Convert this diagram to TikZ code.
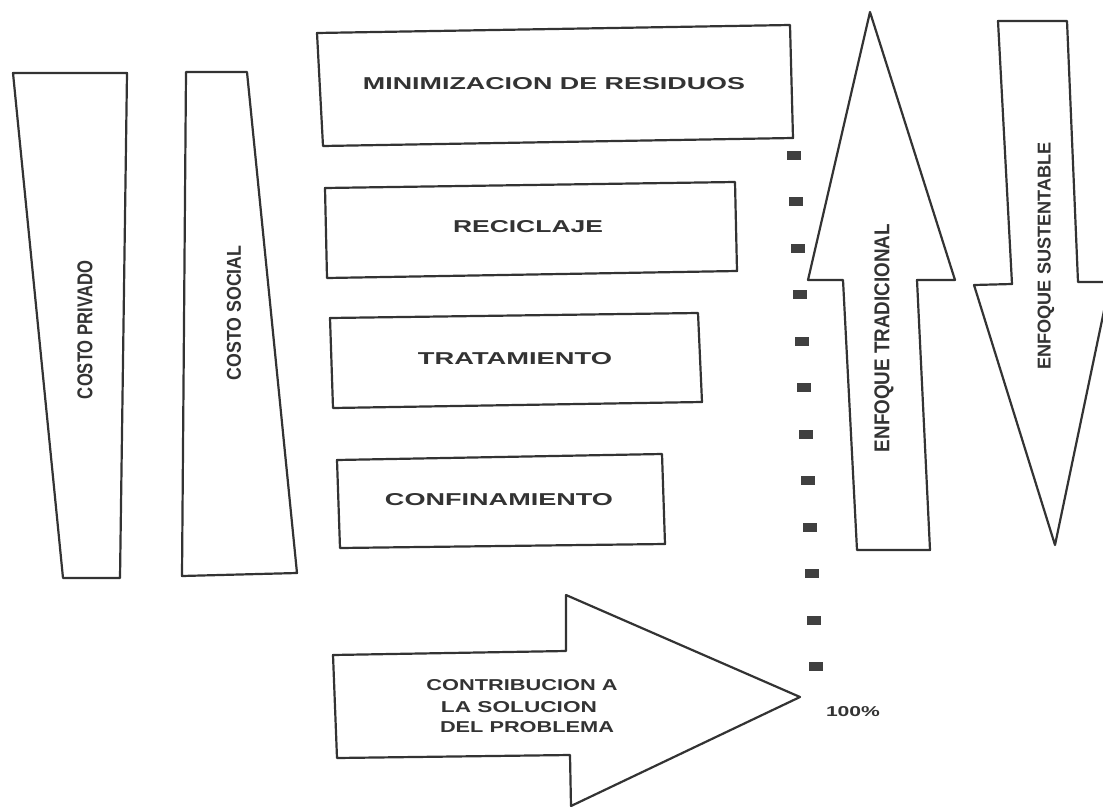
\documentclass[tikz,border=0pt]{standalone}
\usepackage{fontspec}
\setmainfont{Liberation Sans}
\usepackage{graphicx}
\tikzset{
  shapeline/.style={draw=black!80, line width=2.2pt, line join=round, fill=white},
  lbl/.style={inner sep=0pt, outer sep=0pt, text=black!80},
  dotmark/.style={fill=black!75}
}
\newcommand{\fitH}[3]{\resizebox{#1pt}{#2pt}{\bfseries #3}}
\newcommand{\fitV}[3]{\rotatebox{90}{\resizebox{#1pt}{#2pt}{\bfseries #3}}}
\begin{document}
\begin{tikzpicture}[x=1pt,y=-1pt]
\useasboundingbox (0,0) rectangle (1103,808);
\clip (0,0) rectangle (1103,808);
\fill[white] (0,0) rectangle (1103,808);
% costo privado / social
\draw[shapeline] (13,73) -- (127,73) -- (120,578) -- (63,578) -- cycle;
\node[lbl] (cp) at (85,330) {\fitV{138}{15}{COSTO PRIVADO}};
\draw[shapeline] (186,72) -- (247,72) -- (297,573) -- (182,576) -- cycle;
\node[lbl] (cs) at (234,313) {\fitV{135}{14}{COSTO SOCIAL}};
% boxes
\draw[shapeline] (317,33) -- (790,25) -- (793,138) -- (323,146) -- cycle;
\node[lbl] (min) at (554,84) {\fitH{382}{12}{MINIMIZACION DE RESIDUOS}};
\draw[shapeline] (325,188) -- (735,182) -- (737,271) -- (327,278) -- cycle;
\node[lbl] (rec) at (528,227) {\fitH{150}{12}{RECICLAJE}};
\draw[shapeline] (330,318) -- (698,313) -- (702,402) -- (333,408) -- cycle;
\node[lbl] (tra) at (515,359) {\fitH{194}{12}{TRATAMIENTO}};
\draw[shapeline] (337,460) -- (662,454) -- (665,544) -- (340,548) -- cycle;
\node[lbl] (con) at (499,500) {\fitH{228}{12}{CONFINAMIENTO}};
% big right arrow
\draw[shapeline] (333,655) -- (566,651) -- (566,595) -- (800,697) -- (571,806) -- (570,755) -- (337,758) -- cycle;
\node[lbl] (c1) at (522,685) {\fitH{191}{11}{CONTRIBUCION A}};
\node[lbl] (c2) at (519,707) {\fitH{156}{11}{LA SOLUCION}};
\node[lbl] (c3) at (527,727) {\fitH{174}{11}{DEL PROBLEMA}};
\node[lbl] (pct) at (853,712) {\fitH{54}{10}{100\%}};
% dotted scale
\foreach \i in {0,...,11} \fill[dotmark] ({794+2*\i-7},{155+46.5*\i-4.5}) rectangle +(14,9);
% up arrow
\draw[shapeline] (870,12) -- (955,280) -- (917,280) -- (930,550) -- (857,550) -- (843,280) -- (808,280) -- cycle;
\node[lbl] (et) at (884,338) {\fitV{228}{15}{ENFOQUE TRADICIONAL}};
% down arrow
\draw[shapeline] (998,21) -- (1067,21) -- (1078,282) -- (1110,282) -- (1055,545) -- (974,285) -- (1012,284) -- cycle;
\node[lbl] (es) at (1046,256) {\fitV{227}{13}{ENFOQUE SUSTENTABLE}};
\end{tikzpicture}
\end{document}
